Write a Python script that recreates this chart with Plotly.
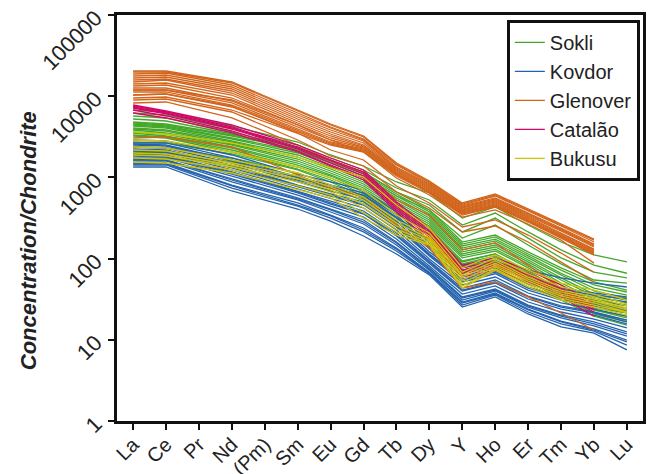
import plotly.graph_objects as go

ELEMENTS = ["La", "Ce", "Pr", "Nd", "(Pm)", "Sm", "Eu", "Gd", "Tb", "Dy", "Y", "Ho", "Er", "Tm", "Yb", "Lu"]
MEASURED = ["La", "Ce", "Nd", "Sm", "Eu", "Gd", "Tb", "Dy", "Y", "Ho", "Er", "Tm", "Yb", "Lu"]

Y_TICKS = [1, 10, 100, 1000, 10000, 100000]
Y_TICK_TEXT = ["1", "10", "100", "1000", "10000", "100000"]

SOKLI = [
    [6760, 6390, 4296, 2729, 1888, 1382, 878, 643, 316, 432, 259, 160, 111, 91],
    [6210, 5870, 3946, 2506, 1734, 1234, 740, 527, 259, 364, 213, 128, 83, 66],
    [5705, 5390, 3623, 2302, 1638, 1133, 661, 457, 213, 316, 179, 102, 68, 58],
    [5240, 4950, 3424, 2175, 1504, 1040, 590, 397, 179, 259, 147, 86, 54.5, 50],
    [4813, 4547, 3329, 2368, 1638, 1166, 661, 397, 160, 195, 121, 77, 51.5, 41],
    [4677, 4420, 3236, 2238, 1548, 1101, 625, 375, 151, 185, 114, 72, 47.3, 38.8],
    [4547, 4296, 3057, 2114, 1504, 1040, 590, 354, 143, 174, 108, 66, 43.4, 35.6],
    [4420, 4176, 2971, 1998, 1421, 983, 558, 335, 135, 165, 102, 63, 39.9, 32.7],
    [4296, 4059, 2808, 1888, 1343, 929, 527, 316, 128, 156, 96, 58, 36.6, 30.9],
    [4059, 3835, 2729, 1783, 1269, 878, 498, 299, 121, 147, 91, 54.5, 34.6, 28.4],
    [3946, 3728, 2578, 1685, 1199, 829, 470, 282, 114, 139, 86, 50, 31.8, 26.8],
    [3835, 3523, 2506, 1592, 1133, 784, 444, 267, 108, 131, 81, 47.3, 29.2, 24.6],
    [3623, 3424, 2368, 1504, 1071, 740, 420, 252, 102, 124, 77, 43.4, 26.8, 23.3],
    [3523, 3236, 2302, 1421, 1040, 700, 397, 238, 93.4, 114, 70.4, 41, 24.6, 21.4],
    [3329, 3145, 2175, 1343, 983, 661, 375, 225, 86, 108, 65, 37.7, 23.3, 19.6],
    [3236, 3057, 2055, 1269, 929, 625, 354, 207, 79, 96, 59.3, 34.6, 21.4, 17.5],
    [2729, 2653, 1942, 1234, 878, 590, 354, 213, 91, 114, 68, 38.8, 23.3, 18.6],
    [2368, 2302, 1734, 1133, 806, 558, 316, 190, 83, 102, 61, 34.6, 20.8, 16.6],
    [2055, 1998, 1548, 1040, 740, 512, 282, 169, 77, 91, 54.5, 30.9, 19.6, 15.2],
]

KOVDOR = [
    [2888, 2808, 1888, 1101, 878, 700, 375, 156, 81, 102, 72, 58, 50, 44.7],
    [2653, 2653, 1734, 1011, 806, 643, 344, 143, 72, 91, 58, 43.4, 37.7, 33.7],
    [2578, 2506, 1638, 983, 762, 607, 325, 139, 70.4, 88, 56, 42.2, 35.6, 31.8],
    [2506, 2436, 1592, 929, 740, 590, 316, 131, 66, 83, 53, 39.9, 33.7, 29.2],
    [2368, 2302, 1504, 878, 680, 542, 290, 121, 61, 77, 48.7, 36.6, 30.9, 26.1],
    [2238, 2175, 1421, 806, 625, 498, 267, 114, 56, 70.4, 44.7, 33.7, 28.4, 23.3],
    [2175, 2114, 1382, 784, 607, 470, 252, 111, 54.5, 68, 43.4, 32.7, 27.6, 22.6],
    [2114, 2055, 1306, 762, 590, 457, 245, 108, 51.5, 65, 41, 30.9, 26.1, 21.4],
    [1998, 1998, 1234, 720, 542, 420, 225, 99, 47.3, 59.3, 37.7, 28.4, 23.9, 19.6],
    [1942, 1888, 1166, 680, 512, 386, 207, 93.4, 43.4, 54.5, 34.6, 26.1, 22, 17.5],
    [1888, 1834, 1133, 661, 484, 364, 195, 91, 41, 51.5, 33.7, 25.3, 21.4, 16.6],
    [1834, 1783, 1101, 643, 470, 354, 190, 86, 39.9, 50, 31.8, 23.9, 20.2, 15.7],
    [1734, 1734, 1040, 607, 444, 325, 174, 81, 36.6, 46, 29.2, 22, 18, 14],
    [1685, 1638, 956, 558, 408, 299, 160, 77, 33.7, 42.2, 26.8, 20.2, 16.6, 12.5],
    [1638, 1638, 929, 542, 397, 282, 156, 74.5, 32.7, 41, 26.1, 19.6, 15.7, 11.8],
    [1592, 1592, 878, 527, 375, 267, 147, 72, 30.9, 39.9, 25.3, 18.6, 14.8, 11.1],
    [1504, 1504, 806, 484, 344, 238, 135, 68, 29.2, 37.7, 23.9, 17, 13.6, 9.9],
    [1462, 1462, 784, 457, 335, 225, 131, 66, 28.4, 36.6, 23.3, 16.6, 13.2, 9.4],
    [1421, 1421, 740, 444, 316, 213, 124, 65, 26.8, 35.6, 22, 15.7, 12.8, 8.6],
    [1343, 1343, 680, 408, 290, 190, 114, 63, 25.3, 33.7, 20.8, 14.4, 12.1, 7.5],
]

GLENOVER = [
    [20430, 20430, 14960, 6760, 4547, 3236, 1504, 903, 484, 625, 408, 267, 174, None],
    [19860, 19860, 14540, 6575, 4420, 3145, 1462, 878, 470, 607, 397, 259, 169, None],
    [18770, 19300, 13740, 6210, 4176, 2971, 1421, 853, 457, 590, 386, 252, 160, None],
    [17740, 18250, 12980, 5870, 4059, 2888, 1343, 829, 444, 558, 364, 238, 151, None],
    [16760, 17240, 12270, 5545, 3835, 2808, 1306, 806, 432, 542, 354, 231, 147, None],
    [15830, 16280, 11590, 5240, 3623, 2653, 1269, 784, 420, 527, 344, 225, 143, None],
    [14960, 15830, 10950, 4950, 3424, 2506, 1234, 762, 408, 512, 335, 219, 139, None],
    [14130, 14540, 10340, 4677, 3236, 2436, 1199, 740, 397, 498, 325, 207, 131, None],
    [13350, 13740, 9500, 4420, 3057, 2368, 1166, 720, 386, 484, 316, 201, 128, None],
    [12620, 12620, 8730, 4176, 2888, 2302, 1133, 700, 375, 470, 307, 195, 124, None],
    [11920, 11920, 8250, 3946, 2729, 2238, 1101, 680, 364, 457, 299, 190, 121, None],
    [11270, 11270, 7790, 3835, 2653, 2175, 1101, 661, 364, 444, 290, 185, 117, None],
    [10340, 10640, 7362, 3623, 2578, 2114, 1071, 661, 354, 444, 290, 185, 114, None],
    [9500, 9775, 6760, 3523, 2506, 2055, 1040, 643, 344, 432, 282, 179, 111, None],
    [11920, 11920, 8980, 4420, 2888, 2055, 983, 607, 325, 397, 267, 169, 88, None],
    [10340, 10640, 7575, 3523, 2175, 1638, 784, 484, 245, 299, 195, 117, 68, None],
    [8980, 9240, 6390, 2888, 1834, 1382, 661, 420, 213, 252, 160, 91, 51.5, None],
    [8250, 8485, 5390, 2506, 1638, 1166, 527, 344, 128, 156, 83, 43.4, 24.6, None],
    [3057, 3145, 2368, 1071, 740, 574, 259, 135, 43.4, 51.5, 33.7, 21.4, 13.2, None],
]

CATALAO = [
    [7790, 6575, 4420, 2506, 1734, 1234, 498, 238, 83, 102, 72, 47.3, 28.4, None],
    [7575, 6390, 4176, 2368, 1638, 1166, 470, 219, 77, 93, 66, 43.4, 26.1, None],
    [7362, 6210, 4059, 2302, 1592, 1101, 444, 207, 72, 88, 63, 41, 24.6, None],
    [7155, 6040, 3946, 2238, 1504, 1040, 420, 195, 68, 83, 59.3, 38.8, 23.3, None],
    [6760, 5705, 3728, 2114, 1421, 983, 397, 185, 65, 79, 56, 36.6, 22, None],
    [6210, 5390, 3523, 2055, 1382, 929, 375, 169, 59.3, 72, 51.5, 33.7, 19.6, None],
]

BUKUSU = [
    [3623, 3424, 2653, 1783, 1306, 1011, 457, 238, 77, 111, 72, 50, 41, 30.9],
    [2888, 2808, 2055, 1343, 983, 700, 344, 207, 68, 102, 65, 44.7, 36.6, 27.6],
    [2368, 2302, 1638, 1133, 806, 574, 299, 190, 63, 93.4, 59.3, 41, 33.7, 26.1],
    [2175, 2114, 1504, 1040, 762, 527, 274, 179, 59.3, 88, 56, 38.8, 31.8, 24.6],
    [1998, 1942, 1421, 956, 700, 470, 252, 169, 54.5, 83, 53, 36.6, 30.1, 23.3],
    [1888, 1834, 1343, 878, 661, 420, 231, 160, 50, 79, 50, 34.6, 28.4, 22],
    [1734, 1685, 1234, 784, 607, 364, 213, 151, 46, 74.5, 47.3, 32.7, 26.8, 21.4],
    [1548, 1504, 1133, 700, 558, 316, 195, 147, 43.4, 72, 44.7, 30.9, 25.3, 20.2],
]

GROUP_NAMES = ["Sokli", "Kovdor", "Glenover", "Catalão", "Bukusu"]
GROUP_DATA = [SOKLI, KOVDOR, GLENOVER, CATALAO, BUKUSU]
GROUP_COLORS = ["#45a82a", "#2563ad", "#d2651c", "#d4066a", "#d0c400"]

FONT = "Liberation Sans, Arial, sans-serif"

fig = go.Figure()
for name, rows, color in zip(GROUP_NAMES, GROUP_DATA, GROUP_COLORS):
    for i, row in enumerate(rows):
        lookup = dict(zip(MEASURED, row))
        yvals = [lookup.get(el) for el in ELEMENTS]
        fig.add_trace(go.Scatter(
            x=ELEMENTS, y=yvals, mode="lines", connectgaps=True,
            line=dict(color=color, width=1.3),
            name=name, legendgroup=name, showlegend=(i == 0),
            hoverinfo="skip",
        ))

fig.update_layout(
    width=649, height=474,
    margin=dict(l=117, r=6, t=15, b=53),
    paper_bgcolor="white", plot_bgcolor="white",
    font=dict(family=FONT, size=20, color="#222222"),
    showlegend=True,
    legend=dict(
        x=0.994, xanchor="right", y=0.988, yanchor="top",
        bgcolor="white", bordercolor="#111111", borderwidth=3,
        font=dict(family=FONT, size=20, color="#222222"),
        tracegroupgap=0, itemwidth=30,
    ),
    xaxis=dict(
        type="category", categoryorder="array", categoryarray=ELEMENTS,
        range=[-0.49, 15.49], automargin=False,
        showline=True, linecolor="#111111", linewidth=3, mirror=True,
        ticks="outside", ticklen=6, tickwidth=2, tickcolor="#111111",
        tickangle=-45, showgrid=False, zeroline=False,
        ticklabelstandoff=-5,
        tickfont=dict(family=FONT, size=20, color="#222222"),
    ),
    yaxis=dict(
        type="log", range=[0, 5], automargin=False,
        tickvals=Y_TICKS, ticktext=Y_TICK_TEXT,
        showline=True, linecolor="#111111", linewidth=3, mirror=True,
        ticks="outside", ticklen=6, tickwidth=2, tickcolor="#111111",
        tickangle=-45, showgrid=False, zeroline=False,
        ticklabelstandoff=8,
        tickfont=dict(family=FONT, size=22, color="#222222"),
    ),
    annotations=[dict(
        text="<b><i>Concentration/Chondrite</i></b>",
        xref="paper", yref="paper", x=-0.169, y=0.443,
        xanchor="center", yanchor="middle",
        textangle=-90, showarrow=False,
        font=dict(family=FONT, size=22, color="#222222"),
    )],
)

fig.write_html("out.html", config={"displayModeBar": False},
               post_script="document.body.style.margin='0';")
